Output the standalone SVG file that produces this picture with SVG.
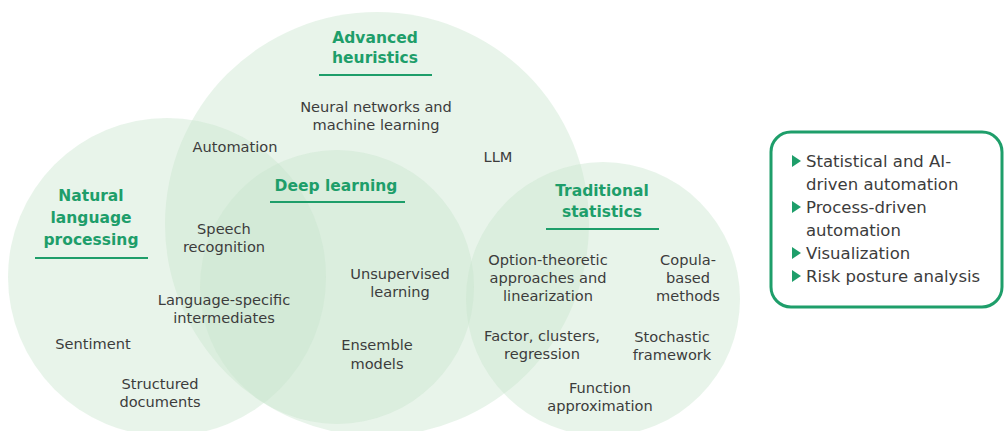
<svg xmlns="http://www.w3.org/2000/svg" width="1007" height="431" viewBox="0 0 1007 431">
<style>
.c{fill:rgb(201,228,204);fill-opacity:0.42}
.h{font-family:"DejaVu Sans","Liberation Sans",sans-serif;font-weight:bold;font-size:15.5px;fill:#1e9e6a;text-anchor:middle}
.t{font-family:"DejaVu Sans","Liberation Sans",sans-serif;font-size:14.6px;fill:#3c3c3c;text-anchor:middle}
.b{font-family:"DejaVu Sans","Liberation Sans",sans-serif;font-size:16.5px;fill:#3c3c3c}
.u{stroke:#1e9e6a;stroke-width:2}
.tri{fill:#1e9e6a}
</style>
<rect width="1007" height="431" fill="#ffffff"/>
<g id="venn-circles">
<circle id="circle-advanced" class="c" cx="377" cy="224" r="212"/>
<circle id="circle-nlp" class="c" cx="167" cy="277" r="159"/>
<circle id="circle-deep" class="c" cx="337" cy="287" r="137"/>
<circle id="circle-stats" class="c" cx="603" cy="299" r="137"/>
</g>
<g id="advanced-heuristics">
<text class="h" x="375" y="43">Advanced<tspan x="375" dy="20">heuristics</tspan></text>
<line class="u" x1="319" y1="75" x2="432" y2="75"/>
<text class="t" x="376" y="112">Neural networks and<tspan x="376" dy="18">machine learning</tspan></text>
<text class="t" x="235" y="152">Automation</text>
<text class="t" x="498" y="162">LLM</text>
</g>
<g id="natural-language-processing">
<text class="h" x="91" y="201">Natural<tspan x="91" dy="22">language</tspan><tspan x="91" dy="22">processing</tspan></text>
<line class="u" x1="35" y1="258" x2="148" y2="258"/>
<text class="t" x="224" y="234">Speech<tspan x="224" dy="18">recognition</tspan></text>
<text class="t" x="224" y="305">Language-specific<tspan x="224" dy="18">intermediates</tspan></text>
<text class="t" x="93" y="349">Sentiment</text>
<text class="t" x="160" y="389">Structured<tspan x="160" dy="18">documents</tspan></text>
</g>
<g id="deep-learning">
<text class="h" x="336" y="191">Deep learning</text>
<line class="u" x1="270" y1="202" x2="405" y2="202"/>
<text class="t" x="400" y="279">Unsupervised<tspan x="400" dy="18">learning</tspan></text>
<text class="t" x="377" y="350">Ensemble<tspan x="377" dy="19">models</tspan></text>
</g>
<g id="traditional-statistics">
<text class="h" x="602" y="196">Traditional<tspan x="602" dy="21">statistics</tspan></text>
<line class="u" x1="546" y1="229" x2="659" y2="229"/>
<text class="t" x="548" y="265">Option-theoretic<tspan x="548" dy="18">approaches and</tspan><tspan x="548" dy="18">linearization</tspan></text>
<text class="t" x="688" y="265">Copula-<tspan x="688" dy="18">based</tspan><tspan x="688" dy="18">methods</tspan></text>
<text class="t" x="542" y="341">Factor, clusters,<tspan x="542" dy="18">regression</tspan></text>
<text class="t" x="672" y="342">Stochastic<tspan x="672" dy="18">framework</tspan></text>
<text class="t" x="600" y="393">Function<tspan x="600" dy="18">approximation</tspan></text>
</g>
<g id="outcomes">
<rect x="771" y="132" width="231" height="175" rx="20" ry="20" fill="#ffffff" stroke="#1e9e6a" stroke-width="3"/>
<polygon class="tri" points="792,155 801,161 792,167"/>
<polygon class="tri" points="792,201 801,207 792,213"/>
<polygon class="tri" points="792,247 801,253 792,259"/>
<polygon class="tri" points="792,270 801,276 792,282"/>
<text class="b" x="806" y="167">Statistical and AI-<tspan x="806" dy="23">driven automation</tspan><tspan x="806" dy="23">Process-driven</tspan><tspan x="806" dy="23">automation</tspan><tspan x="806" dy="23">Visualization</tspan><tspan x="806" dy="23">Risk posture analysis</tspan></text>
</g>
<g id="connectors"></g>
</svg>
